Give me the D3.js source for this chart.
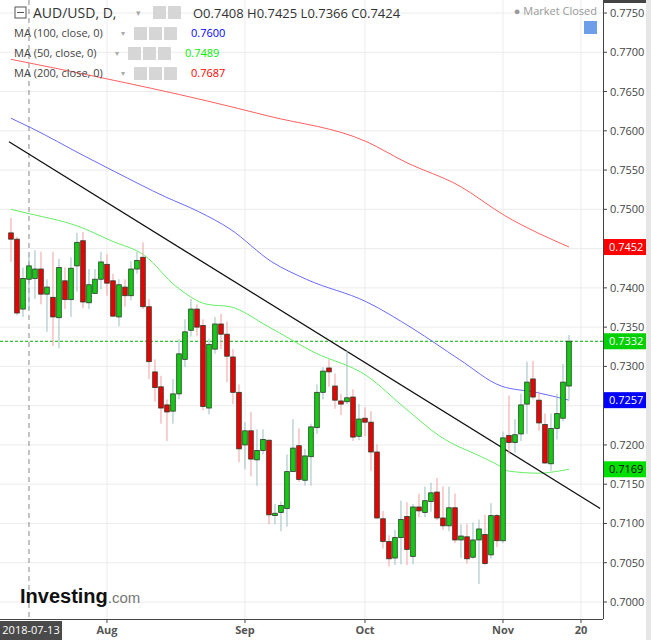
<!DOCTYPE html>
<html><head><meta charset="utf-8">
<script src="https://cdn.jsdelivr.net/npm/d3@7"></script>
<style>body{margin:0;background:#fff;font-family:"Open Sans",Arial,sans-serif}</style>
</head><body><svg id="c" width="651" height="640"></svg>
<script>
const opens=[0.7470,0.7462,0.7373,0.7411,0.7412,0.7424,0.7392,0.7388,0.7362,0.7409,0.7385,0.7428,0.7460,0.7381,0.7393,0.7411,0.7430,0.7409,0.7363,0.7401,0.7390,0.7424,0.7439,0.7376,0.7293,0.7274,0.7251,0.7243,0.7265,0.7309,0.7346,0.7373,0.7352,0.7247,0.7322,0.7354,0.7341,0.7312,0.7267,0.7200,0.7218,0.7181,0.7193,0.7206,0.7110,0.7114,0.7119,0.7166,0.7199,0.7155,0.7185,0.7222,0.7267,0.7298,0.7275,0.7256,0.7255,0.7261,0.7211,0.7234,0.7229,0.7191,0.7106,0.7077,0.7056,0.7082,0.7109,0.7058,0.7121,0.7114,0.7128,0.7140,0.7107,0.7097,0.7120,0.7079,0.7083,0.7057,0.7079,0.7086,0.7060,0.7110,0.7078,0.7212,0.7203,0.7214,0.7252,0.7284,0.7257,0.7226,0.7176,0.7221,0.7234,0.7275];
const highs=[0.7489,0.7465,0.7426,0.7443,0.7448,0.7446,0.7411,0.7446,0.7437,0.7426,0.7439,0.7470,0.7471,0.7424,0.7424,0.7446,0.7443,0.7418,0.7411,0.7411,0.7434,0.7446,0.7458,0.7386,0.7309,0.7288,0.7258,0.7284,0.7335,0.7360,0.7386,0.7379,0.7360,0.7335,0.7363,0.7367,0.7357,0.7322,0.7277,0.7229,0.7242,0.7220,0.7220,0.7207,0.7125,0.7128,0.7188,0.7233,0.7221,0.7195,0.7227,0.7277,0.7299,0.7309,0.7291,0.7265,0.7320,0.7271,0.7252,0.7248,0.7243,0.7201,0.7116,0.7085,0.7092,0.7129,0.7127,0.7125,0.7138,0.7147,0.7152,0.7158,0.7147,0.7147,0.7138,0.7099,0.7099,0.7101,0.7105,0.7111,0.7126,0.7112,0.7217,0.7263,0.7233,0.7265,0.7306,0.7307,0.7268,0.7240,0.7240,0.7265,0.7303,0.7340];
const lows=[0.7433,0.7365,0.7363,0.7372,0.7386,0.7379,0.7344,0.7326,0.7323,0.7373,0.7363,0.7395,0.7374,0.7373,0.7392,0.7398,0.7390,0.7363,0.7351,0.7376,0.7384,0.7418,0.7373,0.7284,0.7255,0.7227,0.7205,0.7227,0.7258,0.7299,0.7338,0.7339,0.7244,0.7239,0.7316,0.7322,0.7280,0.7252,0.7178,0.7169,0.7160,0.7148,0.7188,0.7099,0.7099,0.7090,0.7096,0.7169,0.7153,0.7148,0.7148,0.7214,0.7258,0.7274,0.7246,0.7238,0.7252,0.7205,0.7206,0.7211,0.7167,0.7106,0.7068,0.7045,0.7047,0.7048,0.7047,0.7048,0.7108,0.7108,0.7115,0.7104,0.7092,0.7090,0.7075,0.7056,0.7049,0.7055,0.7023,0.7047,0.7055,0.7070,0.7075,0.7188,0.7190,0.7205,0.7214,0.7258,0.7218,0.7176,0.7167,0.7207,0.7230,0.7258];
const closes=[0.7462,0.7368,0.7412,0.7428,0.7424,0.7392,0.7401,0.7363,0.7426,0.7385,0.7425,0.7458,0.7382,0.7404,0.7411,0.7433,0.7406,0.7364,0.7404,0.7390,0.7424,0.7435,0.7376,0.7306,0.7273,0.7247,0.7242,0.7265,0.7316,0.7344,0.7373,0.7350,0.7249,0.7328,0.7354,0.7341,0.7313,0.7267,0.7195,0.7218,0.7182,0.7193,0.7207,0.7111,0.7113,0.7123,0.7166,0.7196,0.7156,0.7186,0.7223,0.7267,0.7294,0.7293,0.7257,0.7252,0.7260,0.7210,0.7233,0.7229,0.7191,0.7107,0.7077,0.7055,0.7082,0.7105,0.7067,0.7121,0.7116,0.7129,0.7139,0.7107,0.7097,0.7120,0.7079,0.7084,0.7055,0.7079,0.7093,0.7049,0.7110,0.7078,0.7209,0.7203,0.7213,0.7251,0.7280,0.7261,0.7228,0.7177,0.7221,0.7240,0.7280,0.7332];
const ma200=[[0,0.7691],[14.2,0.7669],[32.7,0.7638],[42.8,0.7619],[59.3,0.7586],[65.8,0.7560],[74.7,0.7530],[82.3,0.7492],[93,0.7452]];
const ma100=[[0,0.7616],[3.3,0.7604],[12.2,0.7568],[17.3,0.7548],[25.7,0.7516],[31.3,0.7497],[36.5,0.7475],[43.5,0.7433],[49.2,0.7411],[59.3,0.7382],[67,0.7348],[74.7,0.7309],[81.7,0.7275],[87.5,0.7267],[93,0.7257]];
const ma50=[[0,0.7500],[3.3,0.7494],[11,0.7479],[16.7,0.7460],[22.3,0.7441],[27.5,0.7402],[32.7,0.7379],[36.5,0.7376],[42.8,0.7351],[50.5,0.7318],[59.3,0.7288],[65.8,0.7246],[71.5,0.7211],[79.2,0.7182],[81.5,0.7173],[82.7,0.7167],[88,0.7164],[91.5,0.7167],[93,0.7169]];
const trend=[[-0.33,0.7586],[98.2,0.7119]];
const yTicks=[0.7000,0.7050,0.7100,0.7150,0.7200,0.7250,0.7300,0.7350,0.7400,0.7450,0.7500,0.7550,0.7600,0.7650,0.7700,0.7750];
const xTickIdx=[16,39,59,82,95];
const xTickLabels=["Aug","Sep","Oct","Nov","20"];
const markerIdx=3, markerLabel="2018-07-13";
const lastLabels=[{v:0.7452,bg:"#ff0000",fg:"#fff"},{v:0.7332,bg:"#00d000",fg:"#fff"},{v:0.7257,bg:"#0000ff",fg:"#fff"},{v:0.7169,bg:"#00e000",fg:"#000"}];

const svg=d3.select("#c");
const W=603,H=619;
const x=d3.scaleLinear().domain([-1.83,98.67]).range([0,W]);
const y=d3.scaleLinear().domain([0.7000,0.7750]).range([602,13]);
svg.append("rect").attr("x",646).attr("y",0).attr("width",5).attr("height",640).attr("fill","#e6e6e6");
svg.append("rect").attr("x",603).attr("y",0).attr("width",43).attr("height",3).attr("fill","#444");
svg.append("g").selectAll("line").data(yTicks).join("line").attr("x1",0).attr("x2",W).attr("y1",d=>y(d)).attr("y2",d=>y(d)).attr("stroke","#ececec");
svg.append("g").selectAll("line").data(xTickIdx).join("line").attr("x1",d=>x(d)).attr("x2",d=>x(d)).attr("y1",0).attr("y2",H).attr("stroke","#ececec");
svg.append("line").attr("x1",x(markerIdx)).attr("x2",x(markerIdx)).attr("y1",0).attr("y2",H).attr("stroke","#888").attr("stroke-dasharray","5,4");
svg.append("line").attr("x1",0).attr("x2",W).attr("y1",y(0.7332)).attr("y2",y(0.7332)).attr("stroke","#00b000").attr("stroke-dasharray","3,2");
const ln=d3.line().x(d=>x(d[0])).y(d=>y(d[1])).curve(d3.curveMonotoneX);
svg.append("path").attr("d",ln(ma200)).attr("fill","none").attr("stroke","#ff6060").attr("stroke-width",1);
svg.append("path").attr("d",ln(ma100)).attr("fill","none").attr("stroke","#6a6aff").attr("stroke-width",1);
svg.append("path").attr("d",ln(ma50)).attr("fill","none").attr("stroke","#66ee66").attr("stroke-width",1);
svg.append("path").attr("d",d3.line().x(d=>x(d[0])).y(d=>y(d[1]))(trend)).attr("stroke","#111").attr("stroke-width",1.3);
const cd=opens.map((o,i)=>({i,o,h:highs[i],l:lows[i],c:closes[i]}));
const g=svg.append("g");
g.selectAll("line").data(cd).join("line").attr("x1",d=>x(d.i)).attr("x2",d=>x(d.i)).attr("y1",d=>y(d.h)).attr("y2",d=>y(d.l)).attr("stroke",d=>d.c>=d.o?"#9bbfbf":"#f0a0a0");
g.selectAll("rect").data(cd).join("rect").attr("x",d=>x(d.i)-2.3).attr("width",4.6)
 .attr("y",d=>y(Math.max(d.o,d.c))).attr("height",d=>Math.max(1.5,Math.abs(y(d.o)-y(d.c))))
 .attr("fill",d=>d.c>=d.o?"#11cc11":"#ee0000").attr("stroke","#2a3a2a").attr("stroke-width",0.8);
svg.append("line").attr("x1",W+0.5).attr("x2",W+0.5).attr("y1",0).attr("y2",H).attr("stroke","#444");
svg.append("line").attr("x1",0).attr("x2",W).attr("y1",H+0.5).attr("y2",H+0.5).attr("stroke","#444");
const ya=svg.append("g");
const visTicks=yTicks.filter(t=>!lastLabels.some(l=>Math.abs(y(l.v)-y(t))<14));
ya.selectAll("line").data(yTicks).join("line").attr("x1",W).attr("x2",W+4).attr("y1",d=>y(d)).attr("y2",d=>y(d)).attr("stroke","#444");
ya.selectAll("text").data(visTicks).join("text").attr("x",610).attr("y",d=>y(d)+4).text(d=>d.toFixed(4)).attr("font-size",11).attr("fill","#444");
const xa=svg.append("g");
xa.selectAll("line").data(xTickIdx).join("line").attr("x1",d=>x(d)).attr("x2",d=>x(d)).attr("y1",H).attr("y2",H+4).attr("stroke","#444");
xa.selectAll("text").data(xTickIdx).join("text").attr("x",d=>x(d)).attr("y",634).attr("text-anchor","middle").text((d,i)=>xTickLabels[i]).attr("font-size",11).attr("font-weight","bold").attr("fill","#555");
svg.append("rect").attr("x",0).attr("y",621).attr("width",62).attr("height",19).attr("fill","#4a4a4a");
svg.append("text").attr("x",31).attr("y",634).attr("text-anchor","middle").attr("fill","#fff").attr("font-size",11).text(markerLabel);
lastLabels.forEach(l=>{svg.append("rect").attr("x",604).attr("y",y(l.v)-8).attr("width",42).attr("height",16).attr("fill",l.bg);
 svg.append("text").attr("x",609).attr("y",y(l.v)+4).attr("fill",l.fg).attr("font-size",11).text(l.v.toFixed(4));});
svg.append("rect").attr("x",15).attr("y",7).attr("width",11).attr("height",11).attr("fill","#fff").attr("stroke","#555");
svg.append("line").attr("x1",17).attr("x2",24).attr("y1",12.5).attr("y2",12.5).attr("stroke","#555");
svg.append("text").attr("x",33).attr("y",18).attr("font-size",14).attr("fill","#333").text("AUD/USD, D,");
const ico=(xx,yy,n)=>{for(let k=0;k<n;k++)svg.append("rect").attr("x",xx+k*15).attr("y",yy).attr("width",13).attr("height",13).attr("fill","#d6d6d6");};
svg.append("text").attr("x",136).attr("y",16).attr("font-size",9).attr("fill","#aaa").text("▾");
ico(153,6,2);
svg.append("text").attr("x",193).attr("y",18).attr("font-size",13).attr("fill","#333").text("O0.7408  H0.7425  L0.7366  C0.7424");
const maLeg=[["MA (100, close, 0)","0.7600","#0000ff",33,134],["MA (50, close, 0)","0.7489","#00ee00",53,128],["MA (200, close, 0)","0.7687","#ff0000",73,134]];
maLeg.forEach(m=>{svg.append("text").attr("x",14).attr("y",m[3]+4).attr("font-size",11).attr("fill","#444").text(m[0]);
 svg.append("text").attr("x",m[4]-13).attr("y",m[3]+3).attr("font-size",8).attr("fill","#aaa").text("▾");
 ico(m[4],m[3]-6,3);
 svg.append("text").attr("x",m[4]+57).attr("y",m[3]+4).attr("font-size",11).attr("fill",m[2]).text(m[1]);});
svg.append("text").attr("x",597).attr("y",15).attr("text-anchor","end").attr("font-size",11).attr("fill","#999").text("● Market Closed");
svg.append("rect").attr("x",584).attr("y",21).attr("width",13).attr("height",13).attr("fill","#6d9ee8");
const logo=svg.append("text").attr("x",20).attr("y",603).attr("font-family","Arial,Liberation Sans");
logo.append("tspan").attr("font-size",20).attr("font-weight","bold").attr("fill","#111").text("Investing");
logo.append("tspan").attr("font-size",15).attr("fill","#777").text(".com");
</script></body></html>
